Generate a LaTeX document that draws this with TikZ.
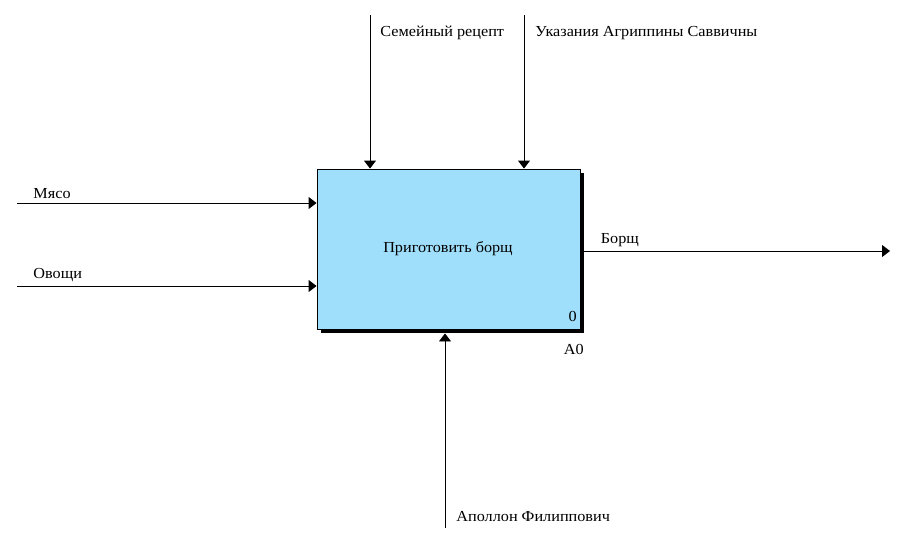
\documentclass[tikz,border=0pt]{standalone}
\usepackage{fontspec}
\setmainfont{Liberation Serif}[FakeStretch=1.06]
\usetikzlibrary{arrows.meta,shadows}
\definecolor{boxblue}{RGB}{160,223,252}
\tikzset{
  arr/.style={-{Triangle[length=8pt,width=12pt]},line width=0.9pt},
  lbl/.style={inner sep=0pt,font=\fontsize{15.3}{17}\selectfont},
  func/.style={draw,line width=0.9pt,fill=boxblue,minimum width=263pt,minimum height=160pt,
    inner sep=0pt,drop shadow={shadow xshift=4pt,shadow yshift=-4pt,fill=black,opacity=1}}
}
\begin{document}
\begin{tikzpicture}[x=1pt,y=-1pt]
  \useasboundingbox (0,0) rectangle (902,541);
  % the function box
  \node[func] (box) at (448.5,249) {};
  \node[lbl] (title) at (448,249) {Приготовить борщ};
  \node[lbl,anchor=south east] (num) at (577,322) {0};
  \node[lbl,anchor=south east] (nodeid) at (584,355) {A0};
  % inputs
  \coordinate (meat) at (17,203);
  \coordinate (veg) at (17,286);
  \draw[arr] (meat) -- (meat -| box.west) node[pos=0,lbl,anchor=south west,xshift=16pt,yshift=4pt] (meatlbl) {Мясо};
  \draw[arr] (veg) -- (veg -| box.west) node[pos=0,lbl,anchor=south west,xshift=16pt,yshift=4pt] (veglbl) {Овощи};
  % controls
  \coordinate (recipe) at (370,15);
  \coordinate (orders) at (524,15);
  \draw[arr] (recipe) -- (recipe |- box.north) node[pos=0,lbl,anchor=west,xshift=10pt,yshift=-18pt] (recipelbl) {Семейный рецепт};
  \draw[arr] (orders) -- (orders |- box.north) node[pos=0,lbl,anchor=west,xshift=11pt,yshift=-18pt] (orderslbl) {Указания Агриппины Саввичны};
  % output
  \coordinate (out) at (890,251);
  \draw[arr] ([xshift=4pt]box.east |- out) -- (out) node[pos=0,lbl,anchor=south west,xshift=16pt,yshift=4pt] (outlbl) {Борщ};
  % mechanism
  \coordinate (cook) at (445,528);
  \draw[arr] (cook) -- ([yshift=-4pt]cook |- box.south) node[pos=0,lbl,anchor=west,xshift=11pt,yshift=11pt] (cooklbl) {Аполлон Филиппович};
\end{tikzpicture}
\end{document}
